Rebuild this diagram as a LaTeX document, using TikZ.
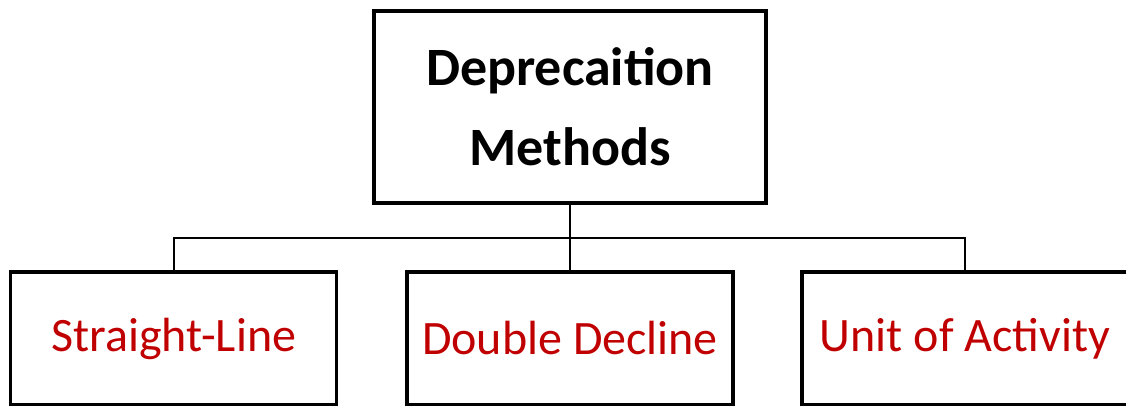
\documentclass[tikz,border=0pt]{standalone}
\usepackage{fontspec}
\setmainfont{Carlito}
\definecolor{lblred}{HTML}{C00000}
\begin{document}
\begin{tikzpicture}[x=1pt,y=-1pt,
  topbox/.style={draw=black,line width=3.8pt,minimum width=392pt,minimum height=192pt,inner sep=0pt,align=center,
    font=\fontsize{54}{80}\selectfont\bfseries},
  leafbox/.style={draw=black,line width=3.2pt,minimum width=326pt,minimum height=133pt,inner sep=0pt,
    text=lblred,font=\fontsize{48}{56}\selectfont},
  conn/.style={draw=black,line width=2.2pt}]
\useasboundingbox (0,0) rectangle (1126,405);
\node[topbox] (root) at (570,107) {Deprecaition\\Methods};
\node[leafbox] (sl) at (173.75,338.5) {Straight-Line};
\node[leafbox] (dd) at (570,338.5) {Double Decline};
\node[leafbox] (ua) at (965,338.5) {Unit of Activity};
\coordinate (j) at (570,238);
\draw[conn] (root.south) -- (j);
\draw[conn] (sl.north) |- (j) -| (ua.north);
\draw[conn] (j) -- (dd.north);
\end{tikzpicture}
\end{document}
